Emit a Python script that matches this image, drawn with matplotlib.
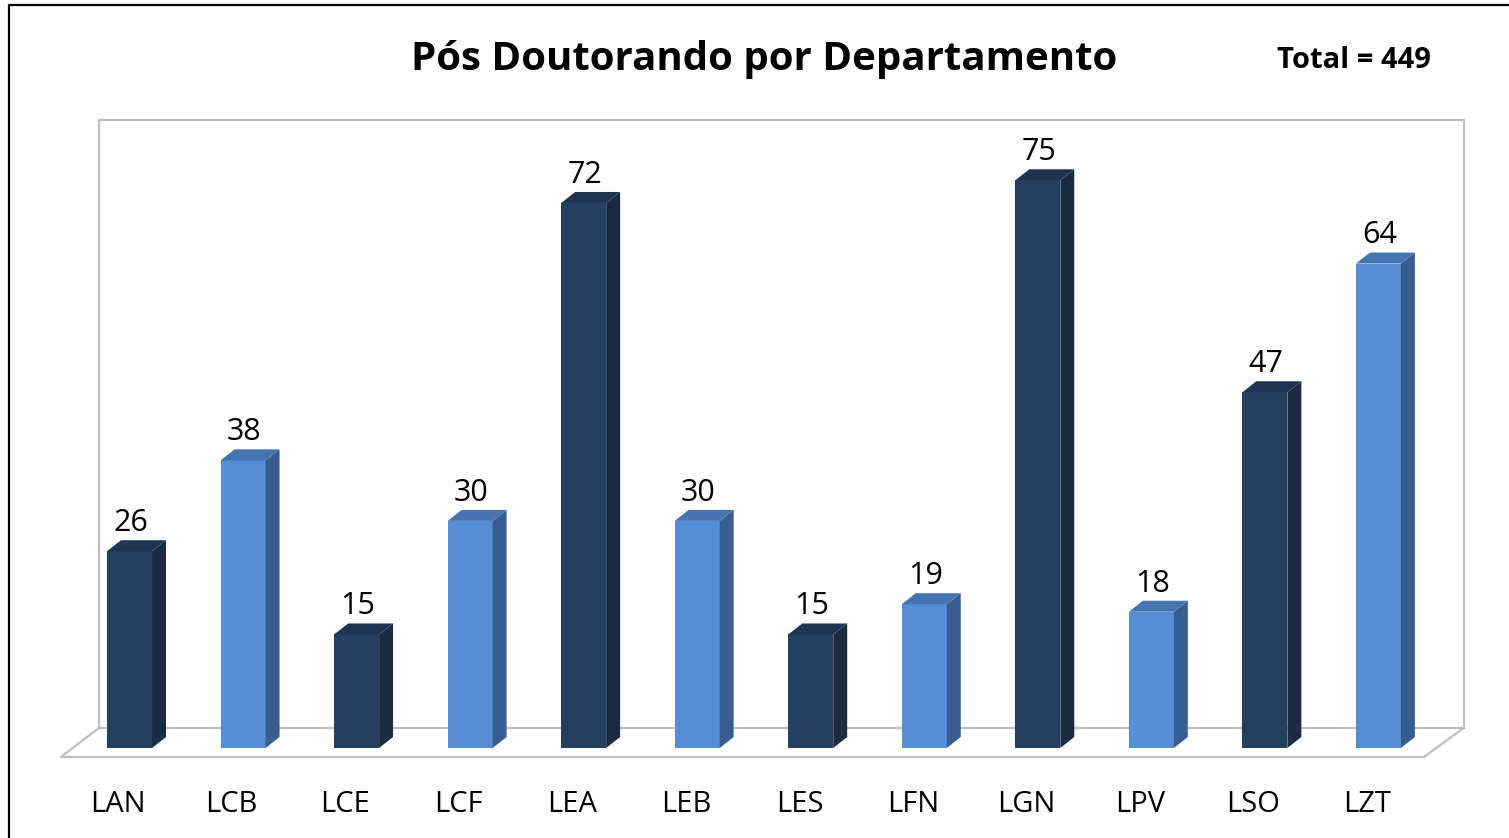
import matplotlib
matplotlib.use("Agg")
import matplotlib.pyplot as plt
from matplotlib.patches import Polygon
from matplotlib.lines import Line2D

# Pos-doc count per department
departments = ['LAN', 'LCB', 'LCE', 'LCF', 'LEA', 'LEB', 'LES', 'LFN', 'LGN', 'LPV', 'LSO', 'LZT']
postdocs = [26, 38, 15, 30, 72, 30, 15, 19, 75, 18, 47, 64]
shade = ['dark', 'light'] * 6
total = sum(postdocs)

colors = {
    'dark': ('#243F60', '#1A2B42', '#1F3553'),
    'light': ('#558ED5', '#375E8F', '#4574B0'),
}

plt.rcParams['font.family'] = ['Open Sans', 'DejaVu Sans']

fig = plt.figure(figsize=(15.09, 8.38), dpi=100)
ax = fig.add_axes([0, 0, 1, 1])
ax.set_xlim(-1.141, 12.150)
ax.set_ylim(-11.89, 98.81)
ax.axis('off')

# depth of the fake 3d effect (data units)
ddx, ddy = 0.123, 1.45
wall_top = 83.0
grey = '#BFBFBF'

n = len(departments)
x = list(range(n))

# back wall and floor
left, right = -0.27, n - 0.25
ax.plot([left, left, right, right], [2.64, wall_top, wall_top, 2.64], color=grey, lw=1.6, zorder=1)
ax.plot([left, right], [2.64, 2.64], color=grey, lw=1.6, zorder=1)
ax.plot([left, left - 0.335, right - 0.35, right], [2.64, -1.19, -1.19, 2.64], color=grey, lw=1.6, zorder=1)

bars = ax.bar(x, postdocs, width=0.396, color=[colors[s][0] for s in shade], zorder=3)
for b, v, s in zip(bars, postdocs, shade):
    x0 = b.get_x()
    x1 = x0 + b.get_width()
    side = Polygon([(x1, 0), (x1 + ddx, ddy), (x1 + ddx, v + ddy), (x1, v)],
                   closed=True, facecolor=colors[s][1], edgecolor='none', zorder=3)
    top = Polygon([(x0, v), (x0 + ddx, v + ddy), (x1 + ddx, v + ddy), (x1, v)],
                  closed=True, facecolor=colors[s][2], edgecolor='none', zorder=3)
    ax.add_patch(side)
    ax.add_patch(top)
    ax.text(b.get_x() + b.get_width() / 2 + 0.01, v + ddy + 1.2, str(v),
            ha='center', va='baseline', fontsize=22, zorder=4)

for xi, lab in zip(x, departments):
    ax.text(xi - 0.1, -7.4, lab, ha='center', va='center', fontsize=21)

ax.text(5.59, 90.9, 'Pós Doutorando por Departamento', ha='center', va='center',
        fontsize=29, fontweight='bold')
ax.text(10.78, 90.8, 'Total = %d' % total, ha='center', va='center',
        fontsize=21, fontweight='bold')

# outer frame, only left and top edges visible
fig.add_artist(Line2D([9 / 1509, 9 / 1509, 1.0], [0.0, 1 - 5 / 838, 1 - 5 / 838],
                      transform=fig.transFigure, color='black', lw=1.6))

fig.savefig('out.png', dpi=100)
